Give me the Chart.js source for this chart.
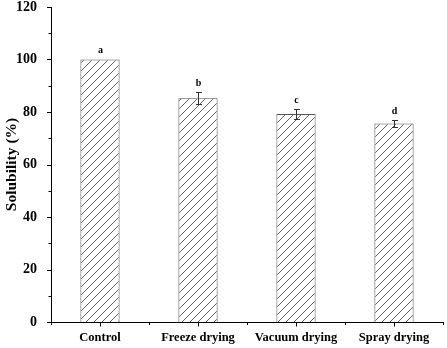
<!DOCTYPE html>
<html>
<head>
<meta charset="utf-8">
<script src="https://cdn.jsdelivr.net/npm/chart.js@4/dist/chart.umd.min.js"></script>
<style>
  html, body { margin: 0; padding: 0; background: #fff; }
  #wrap { width: 447px; height: 348px; }
</style>
</head>
<body>
<div id="wrap"><canvas id="c" width="447" height="348"></canvas></div>
<script>
// data
var categories = ['Control', 'Freeze drying', 'Vacuum drying', 'Spray drying'];
var solubility = [100, 85.2, 79.2, 75.6];
var errors = [0, 2.3, 1.8, 1.2];
var letters = ['a', 'b', 'c', 'd'];
var yTicks = [0, 20, 40, 60, 80, 100, 120];

var serif = '"Liberation Serif", "Times New Roman", serif';

// hatch fill, lines going up to the right
function hatch() {
  var p = document.createElement('canvas');
  p.width = 8; p.height = 8;
  var g = p.getContext('2d');
  g.fillStyle = '#fff';
  g.fillRect(0, 0, 8, 8);
  g.strokeStyle = '#555';
  g.lineWidth = 0.9;
  g.beginPath();
  g.moveTo(0, 8); g.lineTo(8, 0);
  g.moveTo(-1, 1); g.lineTo(1, -1);
  g.moveTo(7, 9); g.lineTo(9, 7);
  g.stroke();
  return g.createPattern(p, 'repeat');
}

var ctx = document.getElementById('c').getContext('2d');

var extras = {
  id: 'extras',
  afterDatasetsDraw: function(chart) {
    var c = chart.ctx;
    var xs = chart.scales.x, ys = chart.scales.y;
    var meta = chart.getDatasetMeta(0);
    c.save();
    // error bars
    c.strokeStyle = '#333';
    c.lineWidth = 1;
    for (var i = 0; i < solubility.length; i++) {
      var x = Math.round(meta.data[i].x) + 0.5;
      if (errors[i] > 0) {
        var yt = Math.round(ys.getPixelForValue(solubility[i] + errors[i])) + 0.5;
        var yb = Math.round(ys.getPixelForValue(solubility[i] - errors[i])) + 0.5;
        c.beginPath();
        c.moveTo(x, yt); c.lineTo(x, yb);
        c.moveTo(x - 2.5, yt); c.lineTo(x + 3.5, yt);
        c.moveTo(x - 2.5, yb); c.lineTo(x + 3.5, yb);
        c.stroke();
      }
      // significance letters
      c.fillStyle = '#000';
      c.font = 'bold 10px ' + serif;
      c.textAlign = 'center';
      c.textBaseline = 'bottom';
      c.fillText(letters[i], x, ys.getPixelForValue(solubility[i] + errors[i]) - 4);
    }
    // axes ticks
    c.strokeStyle = '#000';
    c.beginPath();
    var left = xs.left, bottom = ys.bottom;
    for (var v = 0; v <= 120; v += 10) {
      var y = Math.round(ys.getPixelForValue(v)) + 0.5;
      var len = (v % 20 === 0) ? 4 : 2.5;
      c.moveTo(left, y); c.lineTo(left - len, y);
    }
    var n = categories.length;
    var w = (xs.right - xs.left) / n;
    for (var k = 0; k <= n; k++) {
      var xb = Math.round(xs.left + k * w) + 0.5;
      c.moveTo(xb, bottom); c.lineTo(xb, bottom + 3);
      if (k < n) {
        var xc = Math.round(xs.left + (k + 0.5) * w) + 0.5;
        c.moveTo(xc, bottom); c.lineTo(xc, bottom + 4.5);
      }
    }
    c.stroke();
    c.restore();
  }
};

var chart = new Chart(ctx, {
  type: 'bar',
  data: {
    labels: categories,
    datasets: [{
      data: solubility,
      backgroundColor: hatch(),
      borderColor: '#555',
      borderWidth: 1,
      barPercentage: 0.4,
      categoryPercentage: 1
    }]
  },
  options: {
    responsive: false,
    animation: false,
    layout: { padding: { top: 7, right: 4, left: 0, bottom: 0 } },
    plugins: { legend: { display: false }, tooltip: { enabled: false } },
    scales: {
      x: {
        grid: { display: false },
        border: { display: true, color: '#000', width: 1 },
        ticks: {
          color: '#000',
          padding: 0,
          font: { family: serif, weight: 'bold', size: 12.5 }
        },
        afterFit: function(s) {
          s.height = 26;
          s.paddingLeft = 0; s.paddingRight = 0;
        }
      },
      y: {
        min: 0,
        max: 120,
        afterBuildTicks: function(s) {
          s.ticks = yTicks.map(function(v) { return { value: v }; });
        },
        grid: { display: false },
        border: { display: true, color: '#000', width: 1 },
        ticks: {
          color: '#000',
          padding: 6,
          font: { family: serif, weight: 'bold', size: 14 }
        },
        title: {
          display: true,
          text: 'Solubility (%)',
          color: '#000',
          padding: { top: 3, bottom: 0 },
          font: { family: serif, weight: 'bold', size: 15.5 }
        },
        afterFit: function(s) {
          s.width = 51;
          s.paddingTop = 0; s.paddingBottom = 0;
        }
      }
    }
  },
  plugins: [extras]
});
</script>
</body>
</html>
